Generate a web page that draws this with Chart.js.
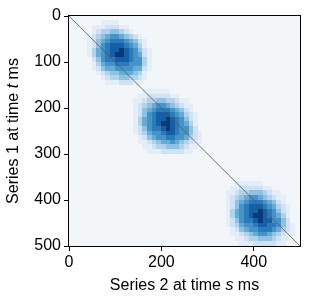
<!DOCTYPE html>
<html>
<head>
<meta charset="utf-8">
<script src="https://cdn.jsdelivr.net/npm/chart.js@4/dist/chart.umd.min.js"></script>
<style>
  html, body { margin: 0; padding: 0; background: #fff; }
</style>
</head>
<body>
<canvas id="heat" width="310" height="303"></canvas>
<script>
// tick labels
const xTicks = [0, 200, 400];
const yTicks = [0, 100, 200, 300, 400, 500];

// grid: 50 x 50 cells of 10 ms
const cellMs = 10;
const gridCells = 50;

// blobs: top-left cell [col (s), row (t)] and intensity levels 0-9
const blob1Origin = [4, 1];
const blob1 = [
  '000111100000000',
  '011122211000000',
  '012334432100000',
  '123456654321000',
  '124567776542100',
  '124678887653100',
  '135678898764210',
  '135678998765210',
  '024677888766310',
  '013566777666310',
  '012455666655210',
  '001234455543100',
  '000123344332100',
  '000011122211000'
];
const blob2Origin = [14, 16];
const blob2 = [
  '001111110000000',
  '011222221100000',
  '112334433211000',
  '123456654321100',
  '124567776542100',
  '124678887653210',
  '135678898764210',
  '135678998765310',
  '124677898766420',
  '123566788766421',
  '012456677665321',
  '011234556543211',
  '001123344432110',
  '000111222221100'
];
const blob3Origin = [34, 36];
const blob3 = [
  '001111110000000',
  '011222221100000',
  '112334443211000',
  '123456654321100',
  '124567776542100',
  '124678887653210',
  '135678898764210',
  '135678998765310',
  '124677898866420',
  '123566788776421',
  '012456677765321',
  '011234566543211',
  '001123344432110',
  '000111222221100'
];

// identity line s = t
const diagonal = [{ x: 0, y: 0 }, { x: 500, y: 500 }];

// Blues-like palette for levels 0..9
const palette = ['#f3f6f9', '#e3eef8', '#cfe1f2', '#b2d2e9', '#8fc1e0',
                 '#66abd5', '#4593c7', '#2b7aba', '#1460a6', '#08397a'];

// build the level matrix from the blobs
const levels = [];
for (let r = 0; r < gridCells; r++) levels.push(new Array(gridCells).fill(0));
[[blob1Origin, blob1], [blob2Origin, blob2], [blob3Origin, blob3]].forEach(([o, rows]) => {
  rows.forEach((line, r) => {
    for (let c = 0; c < line.length; c++) {
      const v = parseInt(line[c], 10);
      const rr = o[1] + r, cc = o[0] + c;
      if (rr < gridCells && cc < gridCells) levels[rr][cc] = Math.max(levels[rr][cc], v);
    }
  });
});

const FONT = 'Liberation Sans, Arial, Helvetica, sans-serif';

const heatmap = {
  id: 'heatmap',
  beforeDatasetsDraw(chart) {
    const { ctx, scales: { x, y }, chartArea: a } = chart;
    ctx.save();
    ctx.beginPath();
    ctx.rect(a.left, a.top, a.right - a.left, a.bottom - a.top);
    ctx.clip();
    for (let r = 0; r < gridCells; r++) {
      for (let c = 0; c < gridCells; c++) {
        const x0 = x.getPixelForValue(c * cellMs), x1 = x.getPixelForValue((c + 1) * cellMs);
        const y0 = y.getPixelForValue(r * cellMs), y1 = y.getPixelForValue((r + 1) * cellMs);
        ctx.fillStyle = palette[levels[r][c]];
        ctx.fillRect(Math.floor(x0), Math.floor(y0), Math.ceil(x1) - Math.floor(x0), Math.ceil(y1) - Math.floor(y0));
      }
    }
    ctx.restore();
  },
  afterDraw(chart) {
    const { ctx, chartArea: a } = chart;
    ctx.save();
    ctx.strokeStyle = '#000';
    ctx.lineWidth = 1;
    ctx.strokeRect(a.left - 0.5, a.top - 0.5, a.right - a.left + 1, a.bottom - a.top + 1);

    // axis titles with italic variable names
    const drawParts = (parts, cx, cy) => {
      let total = 0;
      parts.forEach(p => { ctx.font = (p[1] ? 'italic ' : '') + '16px ' + FONT; total += ctx.measureText(p[0]).width; });
      let px = cx - total / 2;
      ctx.fillStyle = '#000';
      ctx.textBaseline = 'alphabetic';
      ctx.textAlign = 'left';
      parts.forEach(p => {
        ctx.font = (p[1] ? 'italic ' : '') + '16px ' + FONT;
        ctx.fillText(p[0], px, cy);
        px += ctx.measureText(p[0]).width;
      });
    };
    drawParts([['Series 2 at time ', false], ['s', true], [' ms', false]], (a.left + a.right) / 2, 290);
    ctx.translate(18, (a.top + a.bottom) / 2);
    ctx.rotate(-Math.PI / 2);
    drawParts([['Series 1 at time ', false], ['t', true], [' ms', false]], 0, 0);
    ctx.restore();
  }
};

new Chart(document.getElementById('heat'), {
  type: 'scatter',
  data: {
    datasets: [{
      data: diagonal,
      showLine: true,
      borderColor: '#555',
      borderWidth: 0.8,
      pointRadius: 0
    }]
  },
  options: {
    responsive: false,
    animation: false,
    devicePixelRatio: 1,
    layout: { padding: { top: 16, right: 10, left: 0, bottom: 0 } },
    plugins: { legend: { display: false }, tooltip: { enabled: false } },
    scales: {
      x: {
        type: 'linear', min: 0, max: 500,
        afterBuildTicks: s => { s.ticks = xTicks.map(v => ({ value: v })); },
        afterFit: s => { s.height = 57; },
        grid: { drawOnChartArea: false, tickLength: 5, color: '#000' },
        border: { display: true, color: '#000' },
        ticks: { color: '#000', padding: 2, maxRotation: 0, font: { family: FONT, size: 16 } }
      },
      y: {
        type: 'linear', min: 0, max: 500, reverse: true,
        afterBuildTicks: s => { s.ticks = yTicks.map(v => ({ value: v })); },
        afterFit: s => { s.width = 69; },
        grid: { drawOnChartArea: false, tickLength: 5, color: '#000' },
        border: { display: true, color: '#000' },
        ticks: { color: '#000', padding: 3, font: { family: FONT, size: 16 } }
      }
    }
  },
  plugins: [heatmap]
});
</script>
</body>
</html>
